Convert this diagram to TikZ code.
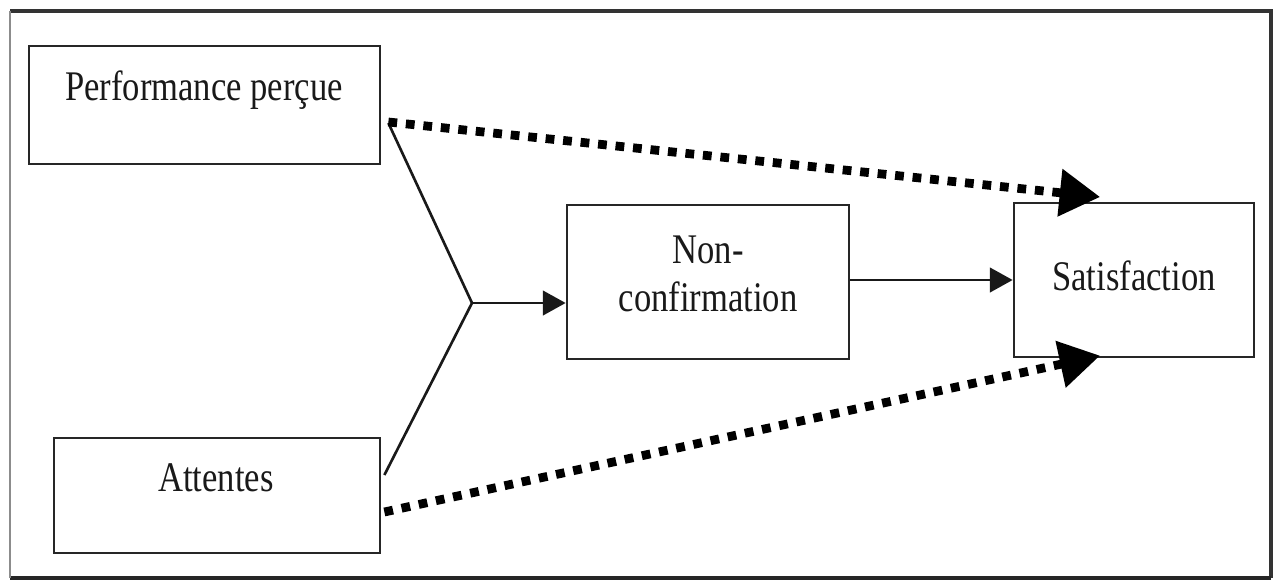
\documentclass[tikz,border=0pt]{standalone}
\usepackage{fontspec}
\setmainfont{Liberation Serif}[FakeStretch=0.82]
\usetikzlibrary{arrows.meta,calc}

\begin{document}
\begin{tikzpicture}[
    x=0.02cm, y=-0.02cm,
    box/.style={draw=black!85, line width=1.6pt, rectangle, inner sep=0pt},
    lbl/.style={font=\fontsize{24}{27.3}\selectfont, text=black!90, inner sep=0pt, anchor=base, align=center},
    link/.style={draw=black!90, line width=1.5pt},
    flow/.style={link, -{Triangle[length=13pt, width=14pt]}},
    direct/.style={draw=black, line width=5pt, dash pattern=on 5pt off 5pt,
                   -{Triangle[length=23pt, width=26pt]}, shorten >=-2pt}
  ]
  % canvas and frame
  \useasboundingbox (0,0) rectangle (1277,581);
  \draw[black!80, line width=1.8pt] (10,11) -- (1271,11) -- (1271,578);
  \draw[black!85, line width=2.2pt] (1271,578) -- (10,578);
  \draw[black!45, line width=1pt] (10,578) -- (10,11);

  % boxes
  \node[box, minimum width=7.02cm, minimum height=2.36cm] (perf) at (204.5,105) {};
  \node[box, minimum width=6.52cm, minimum height=2.30cm] (att)  at (217,495.5) {};
  \node[box, minimum width=5.64cm, minimum height=3.08cm] (nonc) at (708,282) {};
  \node[box, minimum width=4.80cm, minimum height=3.08cm] (sat)  at (1134,280) {};

  % labels
  \node[lbl] (tperf) at (204,100) {Performance perçue};
  \node[lbl] (tatt)  at (216,491) {Attentes};
  \node[lbl] (tnonc) at (708,311) {Non-\\confirmation};
  \node[lbl] (tsat)  at (1134,290) {Satisfaction};

  % junction of the two antecedents
  \coordinate (pa) at ($(perf.east)+(7,18)$);
  \coordinate (aa) at ($(att.east)+(3,-20.5)$);
  \coordinate (j)  at (472,303);
  \draw[link] (pa) -- (j) -- (aa);
  \draw[flow] (j) -- (j -| nonc.west);
  \draw[flow] (nonc.east |- sat.west) -- (sat.west);

  % direct effects on satisfaction
  \coordinate (pd) at ($(perf.east)+(7,17)$);
  \coordinate (ad) at ($(att.east)+(3,16.5)$);
  \coordinate (st) at ($(sat.north west)+(84,-5)$);
  \coordinate (sb) at ($(sat.south west)+(84,-2)$);
  \draw[direct] (pd) -- (st);
  \draw[direct] (ad) -- (sb);
\end{tikzpicture}
\end{document}
